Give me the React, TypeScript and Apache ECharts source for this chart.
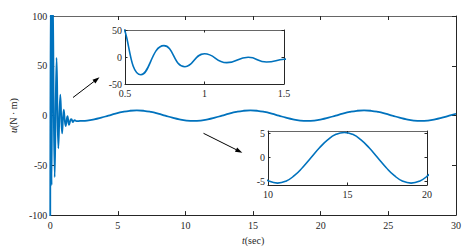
import React, { useEffect, useRef } from "react";
import * as echarts from "echarts";

// transient part (t in sec, u in N·m)
const transientT = [0, 0.04, 0.1, 0.18, 0.33, 0.47, 0.6, 0.745, 0.877, 1.0, 1.14, 1.275, 1.39, 1.5, 1.56, 1.68, 1.8, 1.95];
const transientU = [-130, 140, -70, 130, -62, 58, -33, 21, -18, 6, -10.5, -0.6, -9.3, -4.3, -3.5, -6.5, -4.6, -5.6];
// slow oscillation
const slowT = [2.2, 2.725, 3.25, 3.775, 4.3, 4.825, 5.35, 5.875, 6.4, 6.925, 7.45, 7.975, 8.5, 9.025, 9.55, 10.075,
  10.6, 11.125, 11.65, 12.175, 12.7, 13.225, 13.75, 14.275, 14.8, 15.325, 15.85, 16.375, 16.9, 17.425, 17.95, 18.475,
  19.0, 19.525, 20.05, 20.575, 21.1, 21.625, 22.15, 22.675, 23.2, 23.725, 24.25, 24.775, 25.3, 25.825, 26.35, 26.875,
  27.4, 27.925, 28.45, 28.975, 29.5, 30];
const slowU = [-5.4, -5.0, -3.85, -2.13, -0.1, 1.93, 3.65, 4.8, 5.2, 4.8, 3.65, 1.93, -0.1, -2.13, -3.85, -5.0,
  -5.4, -5.0, -3.85, -2.13, -0.1, 1.93, 3.65, 4.8, 5.2, 4.8, 3.65, 1.93, -0.1, -2.13, -3.85, -5.0,
  -5.4, -5.0, -3.85, -2.13, -0.1, 1.93, 3.65, 4.8, 5.2, 4.8, 3.65, 1.93, -0.1, -2.13, -3.85, -5.0,
  -5.4, -5.0, -3.85, -2.13, -0.1, 1.8];

const mainXTicks = [0, 5, 10, 15, 20, 25, 30];
const mainYTicks = [-100, -50, 0, 50, 100];
const inset1XTicks = [0.5, 1, 1.5];
const inset1YTicks = [-50, 0, 50];
const inset2XTicks = [10, 15, 20];
const inset2YTicks = [-5, 0, 5];

const FONT = "'Liberation Serif', 'DejaVu Serif', serif";
const TXT = "#262626";
const AX = "#262626";
const BOX = "#666666";
const BLUE = "#0072BD";

export default function App() {
  const ref = useRef<HTMLDivElement>(null);
  useEffect(() => {
    document.body.style.margin = "0";
    const chart = echarts.init(ref.current!, null, { renderer: "svg" });
    const data: number[][] = [];
    transientT.forEach((t, i) => data.push([t, transientU[i]]));
    slowT.forEach((t, i) => data.push([t, slowU[i]]));

    const grids = [
      { left: 46, top: 16, width: 410, height: 201, z: 0 },
      { left: 125, top: 30, width: 159, height: 54, z: 6 },
      { left: 268, top: 131, width: 159, height: 54, z: 6 },
    ].map((g) => ({ ...g, show: true, backgroundColor: "#fff", borderWidth: 0, containLabel: false }));

    const ranges = [
      { xmin: 0, xmax: 30, ymin: -100, ymax: 100, xt: mainXTicks, yt: mainYTicks, tl: 4 },
      { xmin: 0.5, xmax: 1.5, ymin: -50, ymax: 50, xt: inset1XTicks, yt: inset1YTicks, tl: 2.5 },
      { xmin: 10, xmax: 20, ymin: -5.8, ymax: 5.5, xt: inset2XTicks, yt: inset2YTicks, tl: 2.5 },
    ];

    const richName = { fontFamily: FONT, fontSize: 10, color: TXT, rich: { i: { fontFamily: FONT, fontStyle: "italic", fontSize: 10, color: TXT } } };
    const xAxis: any[] = [];
    const yAxis: any[] = [];
    ranges.forEach((r, gi) => {
      const z = gi === 0 ? 2 : 8;
      const labelStyle = { fontFamily: FONT, fontSize: 10, color: TXT };
      const line = (c: string) => ({ show: true, onZero: false, lineStyle: { color: c, width: 1 } });
      const tick = (vals: number[]) => ({ show: true, inside: true, length: r.tl, customValues: vals, lineStyle: { color: AX, width: 1 } });
      xAxis.push({
        type: "value", gridIndex: gi, min: r.xmin, max: r.xmax, position: "bottom", z,
        axisLine: line(AX), splitLine: { show: false }, axisTick: tick(r.xt),
        axisLabel: { show: true, customValues: r.xt, margin: gi === 0 ? 5 : 4, ...labelStyle },
        ...(gi === 0 ? { name: "{i|t}(sec)", nameLocation: "middle", nameGap: 18, nameTextStyle: richName } : {}),
      });
      xAxis.push({
        type: "value", gridIndex: gi, min: r.xmin, max: r.xmax, position: "top", z,
        axisLine: line(BOX), splitLine: { show: false }, axisTick: tick(r.xt),
        axisLabel: { show: false },
      });
      yAxis.push({
        type: "value", gridIndex: gi, min: r.ymin, max: r.ymax, position: "left", z,
        axisLine: line(AX), splitLine: { show: false }, axisTick: tick(r.yt),
        axisLabel: { show: true, customValues: r.yt, margin: 3, ...labelStyle },
        ...(gi === 0 ? { name: "{i|u}(N · m)", nameLocation: "middle", nameGap: 27, nameRotate: 90, nameTextStyle: richName } : {}),
      });
      yAxis.push({
        type: "value", gridIndex: gi, min: r.ymin, max: r.ymax, position: "right", z,
        axisLine: line(AX), splitLine: { show: false }, axisTick: tick(r.yt),
        axisLabel: { show: false },
      });
    });

    const series = [0, 1, 2].map((gi) => ({
      type: "line",
      xAxisIndex: gi * 2,
      yAxisIndex: gi * 2,
      data,
      smooth: 0.5,
      showSymbol: false,
      clip: true,
      lineStyle: { color: BLUE, width: gi === 0 ? 1.8 : 1.6 },
      z: gi === 0 ? 3 : 9,
    }));

    const arrow = (x1: number, y1: number, x2: number, y2: number) => {
      const dx = x2 - x1, dy = y2 - y1;
      const len = Math.sqrt(dx * dx + dy * dy);
      const ux = dx / len, uy = dy / len;
      const bx = x2 - 7 * ux, by = y2 - 7 * uy;
      const px = -uy * 2.4, py = ux * 2.4;
      return [
        { type: "line", shape: { x1, y1, x2: bx, y2: by }, style: { stroke: "#000", lineWidth: 1 }, z: 10 },
        { type: "polygon", shape: { points: [[x2, y2], [bx + px, by + py], [bx - px, by - py]] }, style: { fill: "#000" }, z: 10 },
      ];
    };

    chart.setOption({
      animation: false,
      backgroundColor: "#fff",
      grid: grids,
      xAxis,
      yAxis,
      series,
      graphic: [...arrow(73, 97.5, 99.5, 77.3), ...arrow(203.5, 133.3, 242.3, 152.7)],
    });
    return () => chart.dispose();
  }, []);
  return <div ref={ref} style={{ width: 468, height: 250 }} />;
}
